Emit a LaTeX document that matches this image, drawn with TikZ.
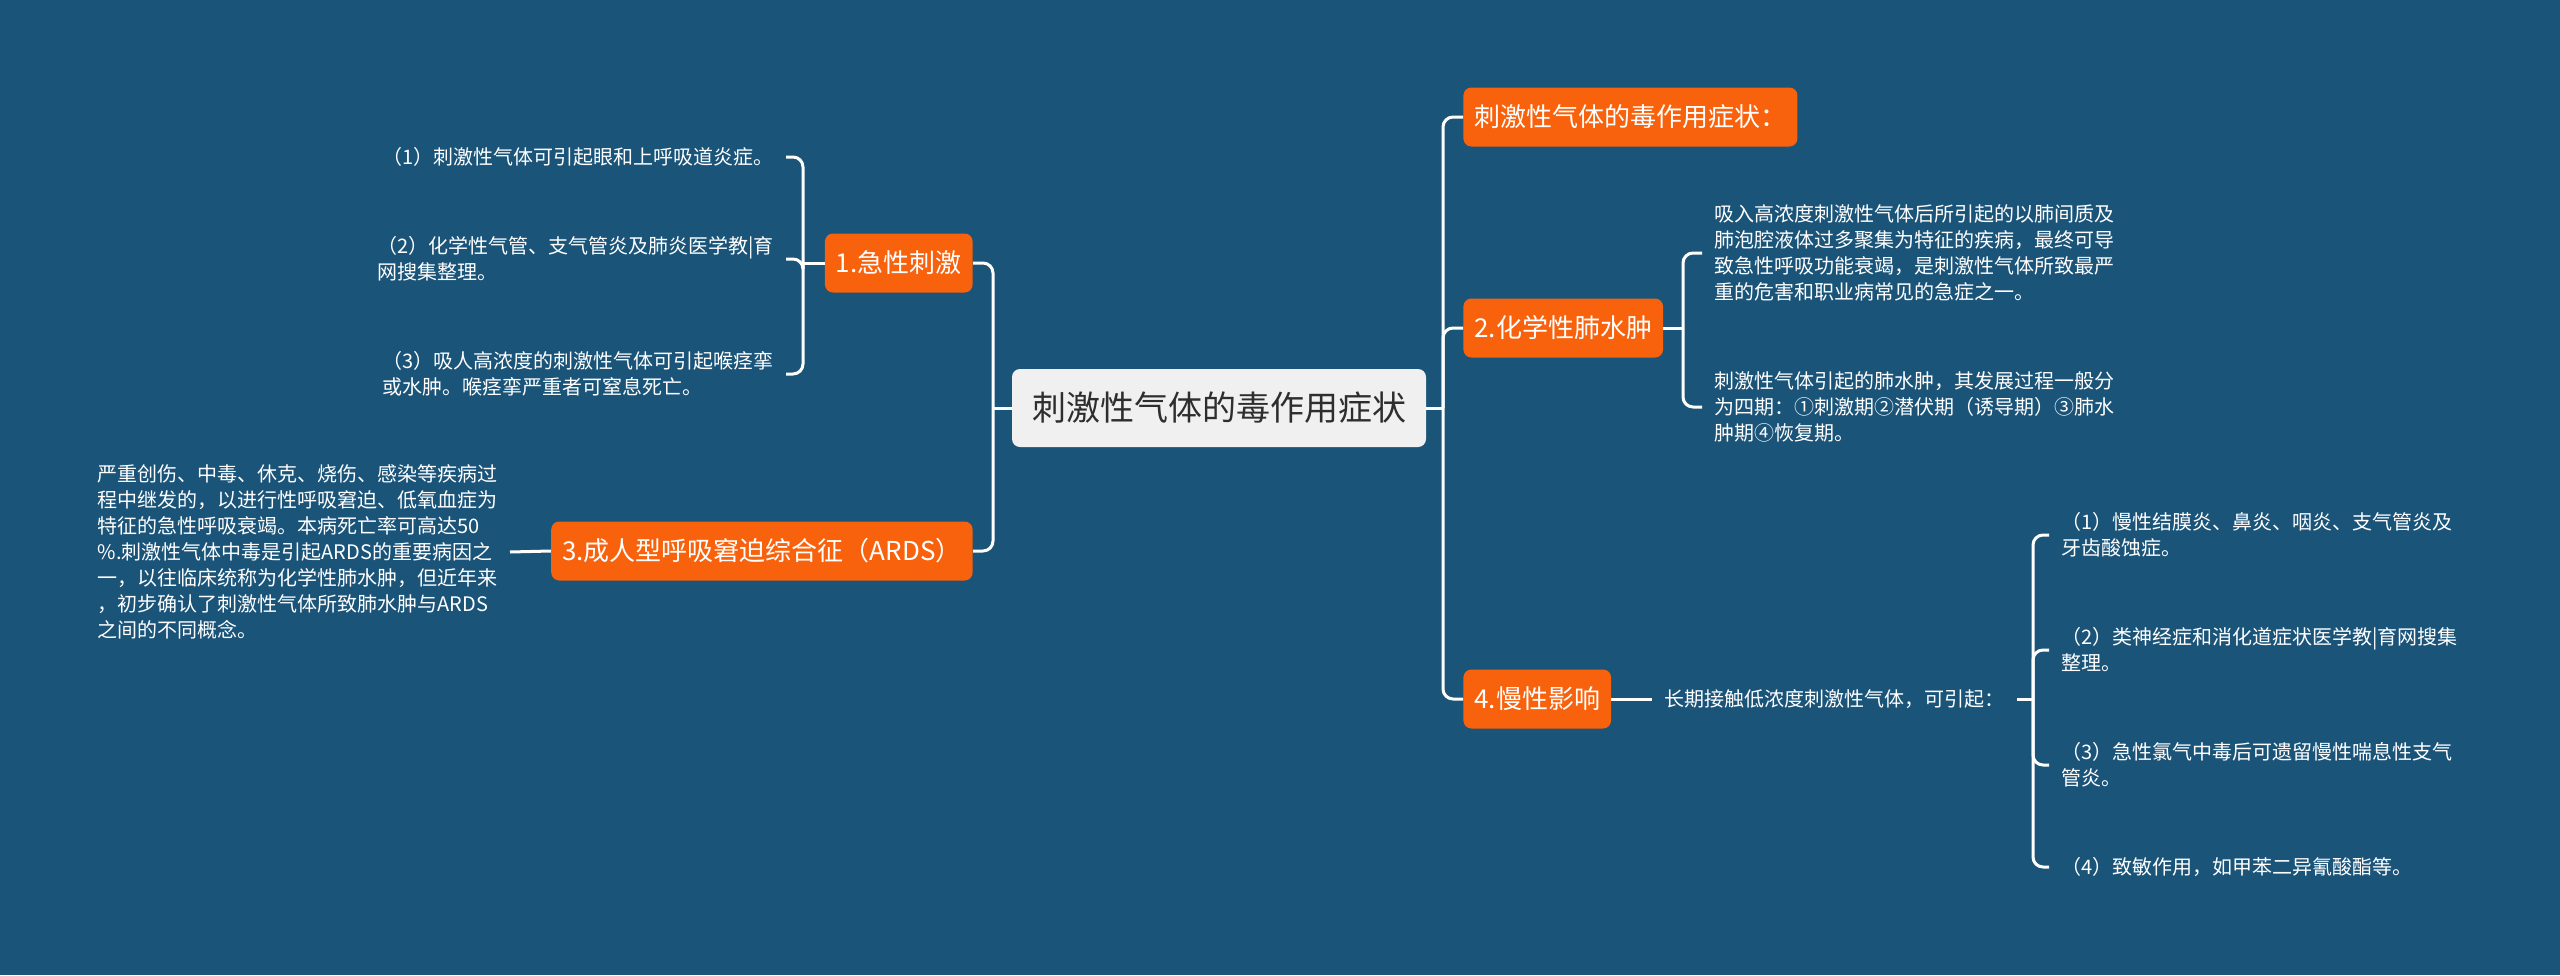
\documentclass[tikz,border=0pt]{standalone}
\usepackage{fontspec}
\setmainfont{Noto Sans CJK SC}
\usepackage{xcolor}
\usepackage{tikz}
\definecolor{deepsea}{HTML}{1B5479}
\definecolor{tangerine}{HTML}{F9620C}
\definecolor{paper}{HTML}{F0F0F0}
\definecolor{ink}{HTML}{2E2E2E}

\begin{document}
\begin{tikzpicture}[x=0.5pt,y=-0.5pt,
  link/.style={draw=white,line width=1.5pt,rounded corners=5pt},
  topic/.style={fill=tangerine,text=white,rounded corners=4pt,font=\fontsize{13}{15}\selectfont,inner xsep=5.5pt,inner ysep=0pt,minimum height=29.5pt},
  leaf/.style={text=white,align=left,font=\fontsize{10}{13}\selectfont,inner xsep=6pt,inner ysep=2pt}]
\fill[deepsea] (0,0) rectangle (2560,975);
\useasboundingbox (0,0) rectangle (2560,975);
\node[fill=paper,text=ink,rounded corners=4pt,font=\fontsize{17}{20}\selectfont,inner xsep=10pt,inner ysep=0pt,minimum height=39pt] (root) at (1219,408) {刺激性气体的毒作用症状};
\node[topic,anchor=east] (b1) at (973,263) {1.急性刺激};
\node[topic,anchor=east] (b3) at (973,551) {3.成人型呼吸窘迫综合征（ARDS）};
\node[topic,anchor=west] (b0) at (1463,117) {刺激性气体的毒作用症状：};
\node[topic,anchor=west] (b2) at (1463,328) {2.化学性肺水肿};
\node[topic,anchor=west] (b4) at (1463,699) {4.慢性影响};
\node[leaf,anchor=east] (a1) at (786,157) {（1）刺激性气体可引起眼和上呼吸道炎症。};
\node[leaf,anchor=east] (a2) at (786,259) {（2）化学性气管、支气管炎及肺炎医学教|育\\网搜集整理。};
\node[leaf,anchor=east] (a3) at (786,374) {（3）吸人高浓度的刺激性气体可引起喉痉挛\\或水肿。喉痉挛严重者可窒息死亡。};
\node[leaf,anchor=east] (d3) at (510,552) {严重创伤、中毒、休克、烧伤、感染等疾病过\\程中继发的，以进行性呼吸窘迫、低氧血症为\\特征的急性呼吸衰竭。本病死亡率可高达50\\\%.刺激性气体中毒是引起ARDS的重要病因之\\一，以往临床统称为化学性肺水肿，但近年来\\，初步确认了刺激性气体所致肺水肿与ARDS\\之间的不同概念。};
\node[leaf,anchor=west] (c1) at (1702,253) {吸入高浓度刺激性气体后所引起的以肺间质及\\肺泡腔液体过多聚集为特征的疾病，最终可导\\致急性呼吸功能衰竭，是刺激性气体所致最严\\重的危害和职业病常见的急症之一。};
\node[leaf,anchor=west] (c2) at (1702,407) {刺激性气体引起的肺水肿，其发展过程一般分\\为四期：①刺激期②潜伏期（诱导期）③肺水\\肿期④恢复期。};
\node[leaf,anchor=west] (via) at (1652,699) {长期接触低浓度刺激性气体，可引起：};
\node[leaf,anchor=west] (e1) at (2049,535) {（1）慢性结膜炎、鼻炎、咽炎、支气管炎及\\牙齿酸蚀症。};
\node[leaf,anchor=west] (e2) at (2049,650) {（2）类神经症和消化道症状医学教|育网搜集\\整理。};
\node[leaf,anchor=west] (e3) at (2049,765) {（3）急性氯气中毒后可遗留慢性喘息性支气\\管炎。};
\node[leaf,anchor=west] (e4) at (2049,867) {（4）致敏作用，如甲苯二异氰酸酯等。};
\coordinate (hubL) at (993,408);
\coordinate (hubR) at (1443,408);
\coordinate (hub1) at (803,263);
\coordinate (hub2) at (1683,328);
\coordinate (hub4) at (2033,699);
\draw[link] (root.west) -- (hubL);
\draw[link] (hubL) |- (b1.east);
\draw[link] (hubL) |- (b3.east);
\draw[link] (root.east) -- (hubR);
\foreach \k in {0,2,4} \draw[link] (hubR) |- (b\k.west);
\draw[link] (b1.west) -- (hub1);
\foreach \k in {1,2,3} \draw[link] (hub1) |- (a\k.east);
\draw[link] (b3.west) -- (d3.east);
\draw[link] (b2.east) -- (hub2);
\foreach \k in {1,2} \draw[link] (hub2) |- (c\k.west);
\draw[link] (b4.east) -- (via.west);
\draw[link] (via.east) -- (hub4);
\foreach \k in {1,...,4} \draw[link] (hub4) |- (e\k.west);
\end{tikzpicture}
\end{document}
